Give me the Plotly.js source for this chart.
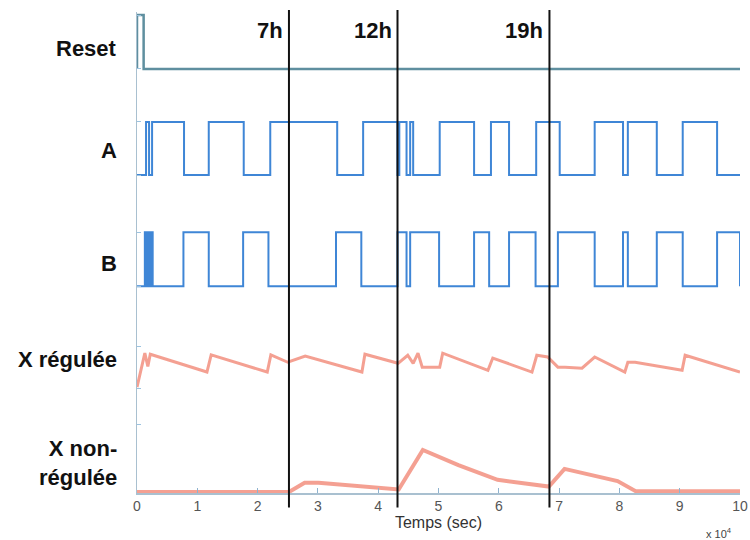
<!DOCTYPE html>
<html>
<head>
<meta charset="utf-8">
<script src="https://cdn.plot.ly/plotly-3.0.1.min.js"></script>
<style>html,body{margin:0;padding:0;background:#fff;}#chart{width:750px;height:540px;}</style>
</head>
<body>
<div id="chart"></div>
<script>
// ---- data (time in seconds) ----
const resetTimes  = [0, 0, 1100, 100000];
const resetLevels = [0, 1, 0, 0];

const aTimes  = [0, 1500, 2000, 2500, 7800, 11900, 17700, 22100, 33200, 37500, 43200, 43500, 44700, 45300, 45800, 50200, 55900, 58700, 61700, 66200, 70100, 75900, 80600, 81400, 86200, 90500, 96200, 100000];
const aLevels = [0, 1, 0, 1, 0, 1, 0, 1, 0, 1, 0, 1, 0, 1, 0, 1, 0, 1, 0, 1, 0, 1, 0, 1, 0, 1, 0, 0];

const bTimes  = [0, 1300, 1600, 1800, 2100, 2300, 2600, 7700, 11900, 17600, 21800, 33000, 37200, 43200, 44700, 45300, 50100, 55900, 58400, 61700, 66100, 69800, 75900, 80600, 81400, 86200, 90500, 96200, 100000];
const bLevels = [0, 1, 0, 1, 0, 1, 0, 1, 0, 1, 0, 1, 0, 1, 0, 1, 0, 1, 0, 1, 0, 1, 0, 1, 0, 1, 0, 1, 0];

const xRegTimes  = [0, 1300, 1800, 2200, 11600, 12300, 21600, 22200, 25000, 27900, 37300, 37800, 43300, 44900, 45800, 46600, 47300, 50200, 50700, 58200, 59000, 65500, 66300, 68100, 69800, 71000, 73800, 75900, 80900, 81400, 82600, 90400, 90900, 100000];
const xRegValues = [0.03, 1.0, 0.62, 0.97, 0.46, 0.95, 0.46, 0.95, 0.74, 0.92, 0.46, 0.97, 0.71, 0.94, 0.71, 1.0, 0.6, 0.6, 1.0, 0.51, 0.86, 0.46, 0.94, 0.89, 0.6, 0.6, 0.57, 0.89, 0.46, 0.74, 0.74, 0.51, 0.94, 0.46];

const xNonTimes  = [0, 25200, 27800, 30100, 43400, 47400, 53300, 59800, 68300, 70900, 79700, 82700, 100000];
const xNonValues = [0, 0, 0.22, 0.22, 0.06, 1.0, 0.64, 0.29, 0.13, 0.55, 0.26, 0.02, 0.02];

const eventTimes  = [25200, 43200, 68400];
const eventLabels = ["7h", "12h", "19h"];

const rowLabels = ["Reset", "A", "B", "X régulée", "X non-<br>régulée"];
const xTickVals  = [0, 10000, 20000, 30000, 40000, 50000, 60000, 70000, 80000, 90000, 100000];
const xTickText  = ["0", "1", "2", "3", "4", "5", "6", "7", "8", "9", "10"];

// ---- styling ----
const blue = "#3f86d6";
const salmon = "rgba(240,120,100,0.7)";
const teal = "#5f8f9f";
const FONT = "Liberation Sans, Arial, sans-serif";

const traces = [
  {x: resetTimes, y: resetLevels, yaxis: "y", line: {shape: "hv", color: teal, width: 2.5}},
  {x: aTimes, y: aLevels, yaxis: "y2", line: {shape: "hv", color: blue, width: 2}},
  {x: bTimes, y: bLevels, yaxis: "y3", line: {shape: "hv", color: blue, width: 2}},
  {x: xRegTimes, y: xRegValues, yaxis: "y4", line: {color: salmon, width: 3}},
  {x: xNonTimes, y: xNonValues, yaxis: "y5", line: {color: salmon, width: 4}}
].map(t => Object.assign({type: "scatter", mode: "lines", xaxis: "x", hoverinfo: "skip", cliponaxis: false}, t));

const axisLine = "#a9c0d0";
function yax(domain, range, tv) {
  return {domain: domain, range: range, anchor: "x", showline: true, linecolor: axisLine, linewidth: 1.5,
          showgrid: false, zeroline: false, showticklabels: false, ticks: "inside", ticklen: 4,
          tickcolor: "#9cc3e0", tickvals: tv, fixedrange: true};
}

const labelY = [0.925, 0.713, 0.478, 0.277, 0.062];
const annotations = rowLabels.map((t, i) => ({
  text: t, xref: "paper", yref: "paper", x: -0.03, y: labelY[i], xanchor: "right", yanchor: "middle",
  showarrow: false, align: "right",
  font: {family: FONT, size: 22, color: "#111", weight: "bold"}
}));
eventTimes.forEach((t, i) => annotations.push({
  text: eventLabels[i], xref: "x", yref: "paper", x: t, y: 0.962, xanchor: "right", yanchor: "middle",
  xshift: -4, showarrow: false,
  font: {family: FONT, size: 22, color: "#111", weight: "bold"}
}));
annotations.push({text: "x 10<sup>4</sup>", xref: "paper", yref: "paper", x: 0.99, y: -0.083,
  xanchor: "right", yanchor: "middle", showarrow: false,
  font: {family: FONT, size: 11, color: "#444"}});

const shapes = eventTimes.map(t => ({type: "line", xref: "x", yref: "paper", x0: t, x1: t,
  y0: -0.03, y1: 1.004, line: {color: "#111", width: 2}}));

const layout = {
  width: 750, height: 540,
  margin: {l: 137, r: 10, t: 12, b: 47},
  paper_bgcolor: "#fff", plot_bgcolor: "#fff",
  showlegend: false,
  xaxis: {domain: [0, 1], range: [0, 100000], anchor: "y5", showline: true, linecolor: axisLine, linewidth: 1.5,
          showgrid: false, zeroline: false, ticks: "inside", ticklen: 5, tickcolor: "#8fb3cf",
          tickvals: xTickVals, ticktext: xTickText, fixedrange: true,
          tickfont: {family: FONT, size: 14, color: "#555"},
          title: {text: "Temps (sec)", standoff: 2, font: {family: FONT, size: 16, color: "#333"}}},
  yaxis:  yax([0.838, 1.0], [-0.389, 1.056], [0.0, 1.0]),
  yaxis2: yax([0.609, 0.838], [-0.472, 1.604], [0.0, 1.0]),
  yaxis3: yax([0.380, 0.609], [-0.444, 1.593], [0.0, 1.0]),
  yaxis4: yax([0.162, 0.380], [-0.771, 2.229], [0.0, 1.2]),
  yaxis5: yax([0.0, 0.162], [-0.024, 1.833], [1.6]),
  annotations: annotations,
  shapes: shapes
};

Plotly.newPlot("chart", traces, layout, {displayModeBar: false, staticPlot: true});
</script>
</body>
</html>
